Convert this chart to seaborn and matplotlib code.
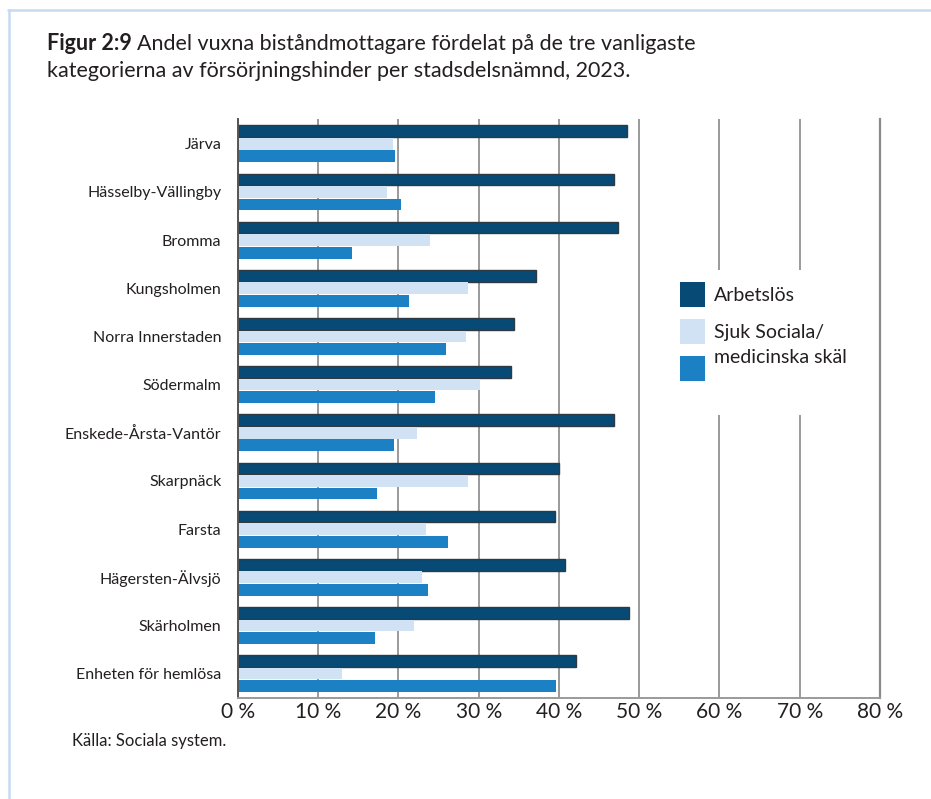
import matplotlib
matplotlib.use("Agg")
import matplotlib.pyplot as plt
import matplotlib.transforms as mtransforms
from matplotlib.lines import Line2D
from matplotlib.patches import Rectangle
import seaborn as sns
import pandas as pd

# ---- data ----
stadsdelar = ["Järva", "Hässelby-Vällingby", "Bromma", "Kungsholmen",
              "Norra Innerstaden", "Södermalm", "Enskede-Årsta-Vantör",
              "Skarpnäck", "Farsta", "Hägersten-Älvsjö", "Skärholmen",
              "Enheten för hemlösa"]
arbetslos = [48.5, 46.8, 47.4, 37.1, 34.4, 34.0, 46.9, 40.0, 39.5, 40.8, 48.7, 42.1]
sjuk = [19.3, 18.6, 23.9, 28.7, 28.4, 30.1, 22.3, 28.7, 23.4, 22.9, 21.9, 13.0]
sociala = [19.6, 20.3, 14.2, 21.3, 25.9, 24.6, 19.5, 17.3, 26.2, 23.7, 17.1, 39.6]
kategorier = ["Arbetslös", "Sjuk", "Sociala/medicinska skäl"]
legend_rader = ["Arbetslös", "Sjuk Sociala/", "medicinska skäl"]
x_ticks = [0, 10, 20, 30, 40, 50, 60, 70, 80]
x_labels = ["0 %", "10 %", "20 %", "30 %", "40 %", "50 %", "60 %", "70 %", "80 %"]

rows = []
for kat, vals in zip(kategorier, [arbetslos, sjuk, sociala]):
    for s, v in zip(stadsdelar, vals):
        rows.append({"Stadsdel": s, "Kategori": kat, "Andel": v})
df = pd.DataFrame(rows)

# ---- style ----
sns.set_style("white")
plt.rcParams["font.family"] = ["Lato", "DejaVu Sans"]
TXT = "#231f20"
palette = {"Arbetslös": "#064a75", "Sjuk": "#d0e2f3",
           "Sociala/medicinska skäl": "#1b80c4"}

fig = plt.figure(figsize=(9.31, 7.99), dpi=100)
ax = fig.add_axes([0.2556, 0.1268, 0.6896, 0.7243])

sns.barplot(data=df, y="Stadsdel", x="Andel", hue="Kategori",
            order=stadsdelar, hue_order=kategorier, palette=palette,
            orient="h", width=0.78, gap=0.06, linewidth=0,
            saturation=1, ax=ax, zorder=2)

for bar in ax.containers[0]:
    bar.set_edgecolor("#2e3a44")
    bar.set_linewidth(1.0)

ax.set_xlim(0, 80)
ax.set_ylim(11.5, -0.515)
ax.set_xticks(x_ticks)
ax.set_xticklabels(x_labels, fontsize=15, color=TXT)
ax.tick_params(axis="x", length=0, pad=3)
ax.tick_params(axis="y", length=0, pad=12, labelsize=11.5, labelcolor=TXT)
ax.set_xlabel("")
ax.set_ylabel("")

ax.xaxis.grid(True, color="#9a9a9a", linewidth=1.4, zorder=0)
ax.set_axisbelow(True)
ax.spines["top"].set_visible(False)
ax.spines["left"].set_color("#555555")
ax.spines["left"].set_linewidth(1.4)
ax.spines["bottom"].set_color("#9a9a9a")
ax.spines["bottom"].set_linewidth(1.4)
ax.spines["right"].set_color("#8a8a8a")
ax.spines["right"].set_linewidth(1.6)

# white legend area over the gridlines
ax.add_patch(Rectangle((0.628, 0.4885), 0.368, 0.2505, transform=ax.transAxes,
                       facecolor="white", edgecolor="none", zorder=1.5))

handles, _ = ax.get_legend_handles_labels()
if ax.get_legend() is not None:
    ax.get_legend().remove()
leg = ax.legend(handles, legend_rader, loc="upper left",
                bbox_to_anchor=(0.688, 0.718), frameon=False,
                fontsize=14, handlelength=1.3, handleheight=1.6,
                handletextpad=0.45, labelspacing=0.62, borderaxespad=0,
                borderpad=0)
for t in leg.get_texts():
    t.set_color(TXT)
leg.get_texts()[2].set_transform(
    leg.get_texts()[2].get_transform() + mtransforms.Affine2D().translate(0, 12))

# ---- titles & source ----
title_y = 0.938
t1 = fig.text(0.0505, title_y, "Figur 2:9", fontsize=15.5, fontweight="bold",
              color=TXT, va="baseline", ha="left")
fig.canvas.draw()
bb = t1.get_window_extent()
x_next = (bb.x1 + 5) / fig.bbox.width
fig.text(x_next, title_y,
         "Andel vuxna biståndmottagare fördelat på de tre vanligaste",
         fontsize=15.5, color=TXT, va="baseline", ha="left")
fig.text(0.0505, title_y - 0.034,
         "kategorierna av försörjningshinder per stadsdelsnämnd, 2023.",
         fontsize=15.5, color=TXT, va="baseline", ha="left")
fig.text(0.0775, 0.066, "Källa: Sociala system.", fontsize=12, color=TXT,
         va="baseline", ha="left")

# light blue frame lines
frame_col = "#c6daf0"
fig.add_artist(Line2D([8 / 931, 1.0], [1 - 10 / 799, 1 - 10 / 799],
                      transform=fig.transFigure, color=frame_col, linewidth=1.8))
fig.add_artist(Line2D([9 / 931, 9 / 931], [0, 1 - 10 / 799],
                      transform=fig.transFigure, color=frame_col, linewidth=1.8))

fig.savefig("out.png", dpi=100)
